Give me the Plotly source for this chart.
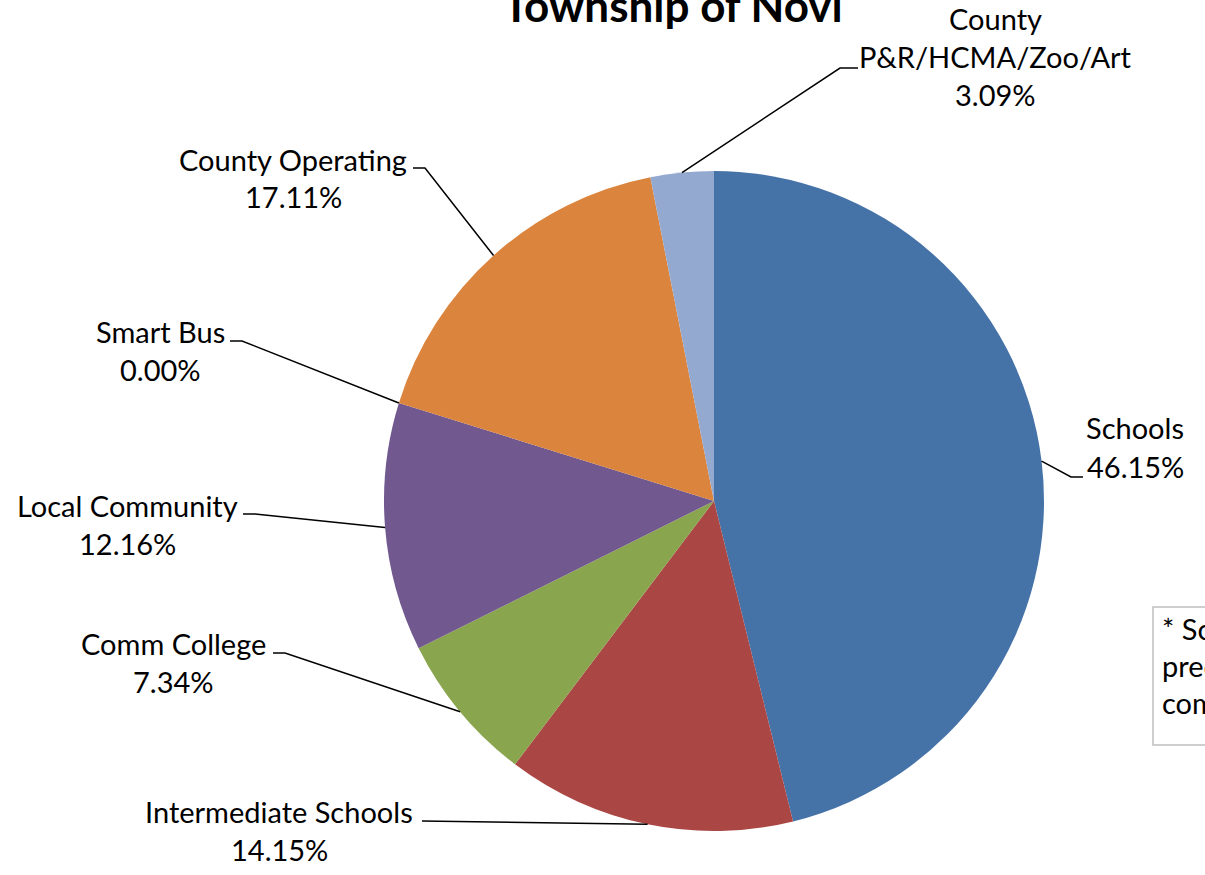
import math
import plotly.graph_objects as go

# ---- data ----
categories = ["Schools", "Intermediate Schools", "Comm College", "Local Community",
              "Smart Bus", "County Operating", "County<br>P&R/HCMA/Zoo/Art"]
shares = [46.15, 14.15, 7.34, 12.16, 0.00, 17.11, 3.09]
colors = ["#4572A7", "#AA4643", "#89A54E", "#71588F", "#4198AF", "#DB843D", "#93A9CF"]
title_text = "Township of Novi"
note_lines = ["* Sc", "pred", "com"]

# ---- layout (pixels) ----
W, H = 1205, 875
CX, CY, R = 714, 501, 330
FONT = "Lato"
FS = 29

# label centre x, first line centre y, elbow point (x, y) and horizontal end x
label_layout = [
    (1135, 428, (1071, 477), 1083),
    (279, 811, (422, 821), 422),
    (174, 643, (285, 653), 273),
    (127, 505, (255, 514), 243),
    (160, 331, (242, 341), 230),
    (293, 159, (425, 168), 413),
    (996, 18, (840, 68), 858),
]
LINE_GAP = 38


def px(x):
    return x / W


def py(y):
    return 1 - y / H


fig = go.Figure()
fig.add_trace(go.Pie(
    labels=categories, values=shares, sort=False, direction="clockwise",
    rotation=0, textinfo="none", hoverinfo="label+percent",
    marker=dict(colors=colors, line=dict(width=0)),
    domain=dict(x=[px(CX - R), px(CX + R)], y=[py(CY + R), py(CY - R)]),
    showlegend=False,
))

annotations = []
shapes = []
total = sum(shares)
cum = 0.0
for cat, val, (lx, ly, (ex, ey), hx) in zip(categories, shares, label_layout):
    mid = (cum + val / 2) / total * 2 * math.pi
    cum += val
    ax = CX + R * math.sin(mid)
    ay = CY - R * math.cos(mid)
    lines = cat.split("<br>") + [f"{val:.2f}%"]
    for i, t in enumerate(lines):
        annotations.append(dict(
            x=px(lx), y=py(ly + i * LINE_GAP), xref="paper", yref="paper",
            text=t, showarrow=False, xanchor="center", yanchor="middle",
            font=dict(family=FONT, size=FS, color="#000000"),
        ))
    shapes.append(dict(
        type="path", xref="paper", yref="paper",
        path=f"M {px(ax)} {py(ay)} L {px(ex)} {py(ey)} L {px(hx)} {py(ey)}",
        line=dict(color="#000000", width=1.5),
    ))

# title (cut off at top)
annotations.append(dict(
    x=px(673), y=py(5), xref="paper", yref="paper", text=f"<b>{title_text}</b>",
    showarrow=False, xanchor="center", yanchor="middle",
    font=dict(family=FONT, size=44, color="#000000"),
))

# note box at right (cut off)
shapes.append(dict(type="rect", xref="paper", yref="paper",
                   x0=px(1153), x1=px(1230), y0=py(745), y1=py(607),
                   line=dict(color="#BFBFBF", width=1.5), fillcolor="#FFFFFF"))
for i, t in enumerate(note_lines):
    annotations.append(dict(
        x=px(1160), y=py(628 + i * 37), xref="paper", yref="paper", text=t,
        showarrow=False, xanchor="left", yanchor="middle",
        font=dict(family=FONT, size=FS, color="#000000"),
    ))

fig.update_layout(
    width=W, height=H, margin=dict(l=0, r=0, t=0, b=0),
    paper_bgcolor="#FFFFFF", plot_bgcolor="#FFFFFF",
    annotations=annotations, shapes=shapes,
)
fig.write_html("out.html", config={"displayModeBar": False},
               post_script="document.body.style.margin='0';document.body.style.overflow='hidden';")
